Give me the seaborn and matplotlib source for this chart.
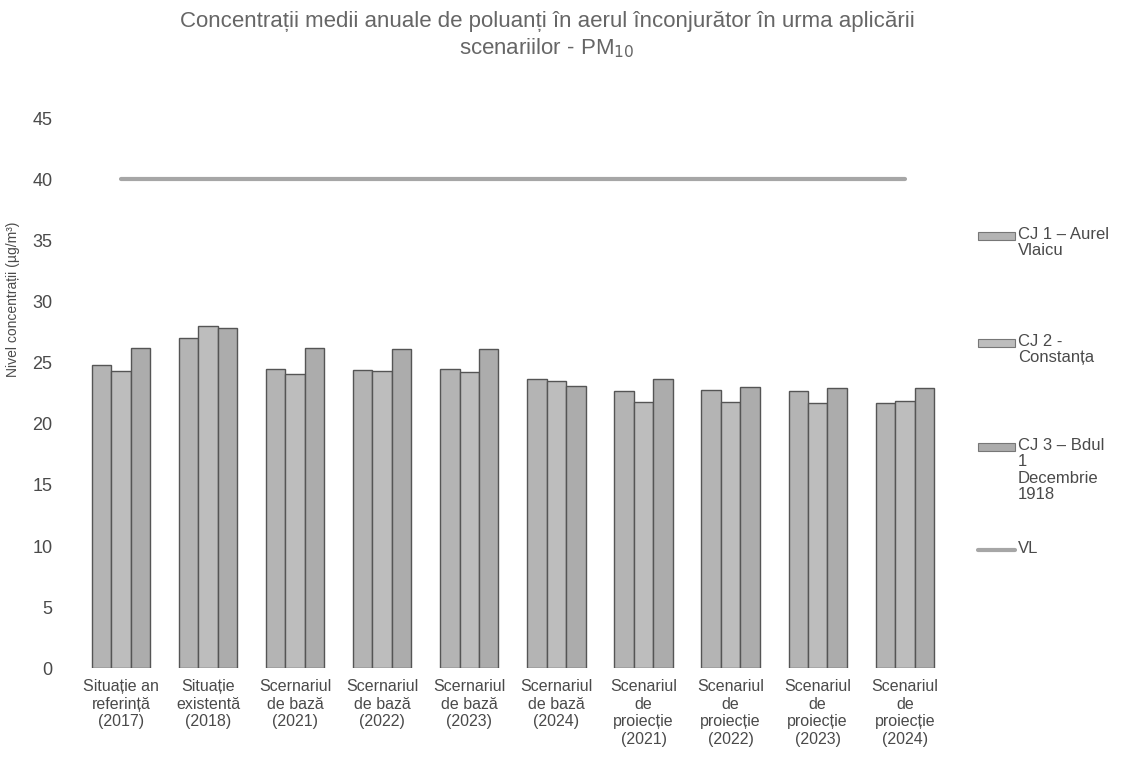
# PM10 annual mean concentrations per scenario
import pandas as pd
import matplotlib.pyplot as plt
import seaborn as sns
from matplotlib.patches import Rectangle
from matplotlib.lines import Line2D

# Data
scenarios = [
    'Situație an\nreferință\n(2017)', 'Situație\nexistentă\n(2018)',
    'Scernariul\nde bază\n(2021)', 'Scernariul\nde bază\n(2022)',
    'Scernariul\nde bază\n(2023)', 'Scernariul\nde bază\n(2024)',
    'Scenariul\nde\nproiecție\n(2021)', 'Scenariul\nde\nproiecție\n(2022)',
    'Scenariul\nde\nproiecție\n(2023)', 'Scenariul\nde\nproiecție\n(2024)',
]
cj1 = [24.8, 27.0, 24.5, 24.4, 24.5, 23.7, 22.7, 22.8, 22.7, 21.7]
cj2 = [24.3, 28.0, 24.1, 24.3, 24.2, 23.5, 21.8, 21.8, 21.7, 21.9]
cj3 = [26.2, 27.8, 26.2, 26.1, 26.1, 23.1, 23.7, 23.0, 22.9, 22.9]
vl = [40] * len(scenarios)

station_names = ['CJ 1 – Aurel\nVlaicu', 'CJ 2 -\nConstanța', 'CJ 3 – Bdul\n1\nDecembrie\n1918']
vl_name = 'VL'

df = pd.DataFrame({
    'Scenariu': scenarios * 3,
    'Statie': [station_names[0]] * 10 + [station_names[1]] * 10 + [station_names[2]] * 10,
    'Valoare': cj1 + cj2 + cj3,
})

sns.set_style('white')
plt.rcParams['font.family'] = ['Liberation Sans', 'DejaVu Sans']

bar_colors = ['#b4b4b4', '#bdbdbd', '#acacac']
text_color = '#4a4a4a'

fig = plt.figure(figsize=(11.21, 7.62), dpi=100)
ax = fig.add_axes([0.069, 0.123, 0.777, 0.722])

sns.barplot(data=df, x='Scenariu', y='Valoare', hue='Statie', palette=bar_colors,
            width=0.67, edgecolor='#555555', linewidth=1.0, legend=False, ax=ax)
sns.lineplot(x=list(range(len(scenarios))), y=vl, color='#a6a6a6', linewidth=3, ax=ax)

ax.set_ylim(0, 45)
ax.set_xlim(-0.5, len(scenarios) - 0.5)
ax.set_yticks(range(0, 46, 5))
ax.tick_params(axis='y', labelsize=13, colors=text_color, length=0, pad=18)
ax.tick_params(axis='x', labelsize=11.5, colors=text_color, length=0, pad=8)
ax.set_xlabel('')
ax.set_ylabel('Nivel concentrații (µg/m³)', fontsize=10, color=text_color)
ax.yaxis.set_label_coords(-0.066, 0.67)
for s in ax.spines.values():
    s.set_visible(False)

fig.text(0.488, 0.985, 'Concentrații medii anuale de poluanți în aerul înconjurător în urma aplicării\n'
         'scenariilor - PM$_{10}$', ha='center', va='top', fontsize=16, color='#666666',
         linespacing=1.2)

# legend, drawn by hand to match the uneven spacing of the original
legend_y = [0.69, 0.55, 0.413, 0.278]
for i, (name, col) in enumerate(zip(station_names, bar_colors)):
    fig.add_artist(Rectangle((0.872, legend_y[i] - 0.005), 0.033, 0.01,
                             transform=fig.transFigure, facecolor=col,
                             edgecolor='#777777', linewidth=0.8))
    fig.text(0.908, legend_y[i] + 0.012, name, ha='left', va='top', fontsize=12,
             color=text_color, linespacing=1.1)
fig.add_artist(Line2D([0.872, 0.905], [legend_y[3], legend_y[3]],
                      transform=fig.transFigure, color='#a6a6a6', linewidth=3))
fig.text(0.908, legend_y[3] + 0.012, vl_name, ha='left', va='top', fontsize=12, color=text_color)

fig.savefig('out.png', dpi=100)
